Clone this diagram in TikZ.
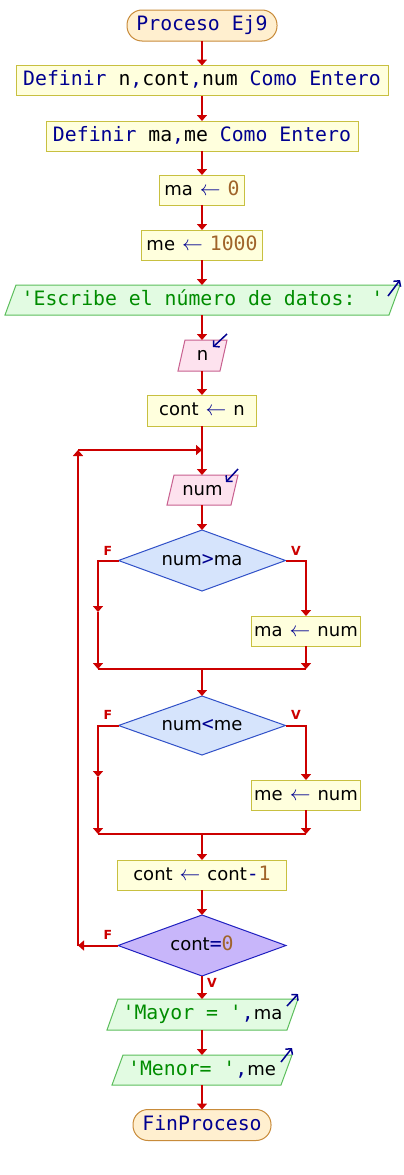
\documentclass[tikz,border=0pt]{standalone}
\usepackage{fontspec}
\newfontfamily\monof{DejaVu Sans Mono}
\newfontfamily\sansf{DejaVu Sans}
\usetikzlibrary{arrows.meta,backgrounds,shapes.geometric}
\definecolor{termf}{HTML}{FFEFCF}
\definecolor{termb}{HTML}{C88B3A}
\definecolor{boxf}{HTML}{FFFFDD}
\definecolor{boxb}{HTML}{C8C040}
\definecolor{inf}{HTML}{FDE2EE}
\definecolor{inb}{HTML}{C8608F}
\definecolor{outf}{HTML}{E2FBE2}
\definecolor{outb}{HTML}{5CBE5C}
\definecolor{decf}{HTML}{D6E4FC}
\definecolor{decb}{HTML}{3050C8}
\definecolor{dectf}{HTML}{C8B6FA}
\definecolor{dectb}{HTML}{2020C0}
\definecolor{flowc}{HTML}{CC0000}
\definecolor{kw}{HTML}{000090}
\definecolor{strc}{HTML}{008C00}
\definecolor{numc}{HTML}{A0642A}
\newcommand{\txKw}[1]{{\color{kw}\monof\fontsize{19.8}{22}\selectfont #1}}
\newcommand{\txOp}[1]{{\color{kw}\monof\fontsize{19.8}{22}\selectfont #1}}
\newcommand{\txAr}{{\color{kw}\fontsize{20}{22}\selectfont$\leftarrow$}}
\newcommand{\txId}[1]{{\color{black}\sansf\fontsize{18}{20}\selectfont #1}}
\newcommand{\txNm}[1]{{\color{numc}\monof\fontsize{19.8}{22}\selectfont #1}}
\newcommand{\txSt}[1]{{\color{strc}\monof\fontsize{19.8}{22}\selectfont #1}}
\newcommand{\txAsg}[2]{\txId{#1}\hspace{7pt}\txAr\hspace{7pt}#2}
\begin{document}
\begin{tikzpicture}[x=1pt,y=-1pt,
  base/.style={inner sep=0pt, outer sep=0pt, line width=1pt, font=\monof\fontsize{19.8}{22}\selectfont, text height=14pt, text depth=4pt},
  term/.style={base, draw=termb, fill=termf, rounded corners=15pt, minimum height=31pt},
  asg/.style={base, draw=boxb, fill=boxf, minimum height=30pt},
  io/.style={base, minimum height=30pt},
  dec/.style={base, diamond, aspect=2.74, draw=decb, fill=decf, minimum height=60pt, minimum width=167pt},
  flow/.style={draw=flowc, line width=2pt, -{Triangle[length=6pt,width=10pt]}},
  fl/.style={draw=flowc, line width=2pt},
  lab/.style={text=flowc, font=\sansf\bfseries\fontsize{12.5}{13}\selectfont, inner sep=0pt},
  ioarr/.style={draw=kw, line width=1.5pt, -{Straight Barb[length=4pt,width=9pt]}},
  inshape/.style={draw=inb, fill=inf, line width=1pt},
  outshape/.style={draw=outb, fill=outf, line width=1pt}]
\useasboundingbox (0,0) rectangle (404,1175);

\node[term, minimum width=150pt] (start) at (202,25.5) {\txKw{Proceso Ej9}};
\node[asg, minimum width=372pt] (def1) at (202,80.5) {\txKw{Definir} {\color{black}n}\txOp{,}{\color{black}cont}\txOp{,}{\color{black}num} \txKw{Como Entero}};
\node[asg, minimum width=312pt] (def2) at (202,136) {\txKw{Definir} {\color{black}ma}\txOp{,}{\color{black}me} \txKw{Como Entero}};
\node[asg, minimum width=85pt] (ma0) at (202,190) {\txAsg{ma}{\txNm{0}}};
\node[asg, minimum width=121pt] (me1k) at (202,245) {\txAsg{me}{\txNm{1000}}};
\node[io, minimum width=395pt] (out1) at (202.5,300) {\txSt{'Escribe el número de datos: '}};
\node[io, minimum width=49pt, minimum height=31pt] (inn) at (202.5,355.5) {\txId{n}};
\node[asg, minimum width=109pt, minimum height=31pt] (cont1) at (202,410.5) {\txAsg{cont}{\txId{n}}};
\node[io, minimum width=71pt] (innum) at (202.5,490) {\txId{num}};
\node[dec, minimum height=61pt] (d1) at (202,560.5) {\txId{num}\txOp{>}\txId{ma}};
\node[asg, minimum width=109pt] (manum) at (306,631) {\txAsg{ma}{\txId{num}}};
\node[dec, minimum height=59pt] (d2) at (202,725.5) {\txId{num}\txOp{<}\txId{me}};
\node[asg, minimum width=109pt] (menum) at (306,795) {\txAsg{me}{\txId{num}}};
\node[asg, minimum width=169pt] (contdec) at (202,875) {\txAsg{cont}{\txId{cont}\txOp{-}\txNm{1}}};
\node[dec, draw=dectb, fill=dectf, minimum height=61pt, minimum width=168pt] (d3) at (202,945.5) {\txId{cont}\txOp{=}\txNm{0}};
\node[io, minimum width=191pt, minimum height=31pt] (out2) at (202.5,1014.5) {\txSt{'Mayor = '}\txOp{,}\txId{ma}};
\node[io, minimum width=180pt] (out3) at (202,1070) {\txSt{'Menor= '}\txOp{,}\txId{me}};
\node[term, minimum width=138pt] (fin) at (202,1125) {\txKw{FinProceso}};

\begin{scope}[on background layer]
\fill[white] (0,0) rectangle (404,1175);
\foreach \n/\s in {inn/7,innum/7}
  \draw[inshape] ([xshift=\s pt]\n.north west) -- (\n.north east) -- ([xshift=-\s pt]\n.south east) -- (\n.south west) -- cycle;
\foreach \n/\s in {out1/11,out2/11,out3/11}
  \draw[outshape] ([xshift=\s pt]\n.north west) -- (\n.north east) -- ([xshift=-\s pt]\n.south east) -- (\n.south west) -- cycle;
\end{scope}

\coordinate (j1) at (202,669);
\coordinate (j1l) at (98,669);
\coordinate (j1r) at (306,669);
\coordinate (l1) at (98,612);
\coordinate (j2) at (202,834);
\coordinate (j2l) at (98,834);
\coordinate (j2r) at (306,834);
\coordinate (l2) at (98,777);
\coordinate (lb) at (78,945.5);
\coordinate (lt) at (78,450);
\coordinate (lm) at (202,450);

\draw[flow] (start.south) -- (def1.north);
\draw[flow] (def1.south) -- (def2.north);
\draw[flow] (def2.south) -- (ma0.north);
\draw[flow] (ma0.south) -- (me1k.north);
\draw[flow] (me1k.south) -- (out1.north -| me1k.south);
\draw[flow] (out1.south -| me1k.south) -- (inn.north -| me1k.south);
\draw[flow] (inn.south -| cont1.north) -- (cont1.north);
\draw[flow] (cont1.south) -- (innum.north -| cont1.south);
\draw[flow] (innum.south -| d1.north) -- (d1.north);

\draw[flow] (d1.west) -| (l1);
\draw[flow] (l1) -- (j1l);
\draw[flow] (d1.east) -| (manum.north);
\draw[flow] (manum.south) -- (j1r);
\draw[fl] (j1l) -- (j1r);
\draw[flow] (j1) -- (d2.north);

\draw[flow] (d2.west) -| (l2);
\draw[flow] (l2) -- (j2l);
\draw[flow] (d2.east) -| (menum.north);
\draw[flow] (menum.south) -- (j2r);
\draw[fl] (j2l) -- (j2r);
\draw[flow] (j2) -- (contdec.north);
\draw[flow] (contdec.south) -- (d3.north);

\draw[flow] (d3.west) -- (lb);
\draw[flow] (lb) -- (lt);
\draw[flow] (lt) -- (lm);

\draw[flow] (d3.south) -- (out2.north -| d3.south);
\draw[flow] (out2.south -| d3.south) -- (out3.north -| d3.south);
\draw[flow] (out3.south -| fin.north) -- (fin.north);

\node[lab] (f1) at (108,551) {F};
\node[lab] (v1) at (296,551) {V};
\node[lab] (f2) at (108,715) {F};
\node[lab] (v2) at (296,715) {V};
\node[lab] (f3) at (108,935) {F};
\node[lab] (v3) at (212,983) {V};

\draw[ioarr] ([xshift=-12pt,yshift=-11pt]out1.north east) -- ([yshift=5pt]out1.north east);
\draw[ioarr] ([yshift=6pt]inn.north east) -- ([xshift=-14pt,yshift=-7pt]inn.north east);
\draw[ioarr] ([yshift=6pt]innum.north east) -- ([xshift=-12pt,yshift=-7pt]innum.north east);
\draw[ioarr] ([xshift=-11pt,yshift=-7pt]out2.north east) -- ([yshift=5pt]out2.north east);
\draw[ioarr] ([xshift=-11pt,yshift=-7pt]out3.north east) -- ([yshift=7pt]out3.north east);
\end{tikzpicture}
\end{document}
